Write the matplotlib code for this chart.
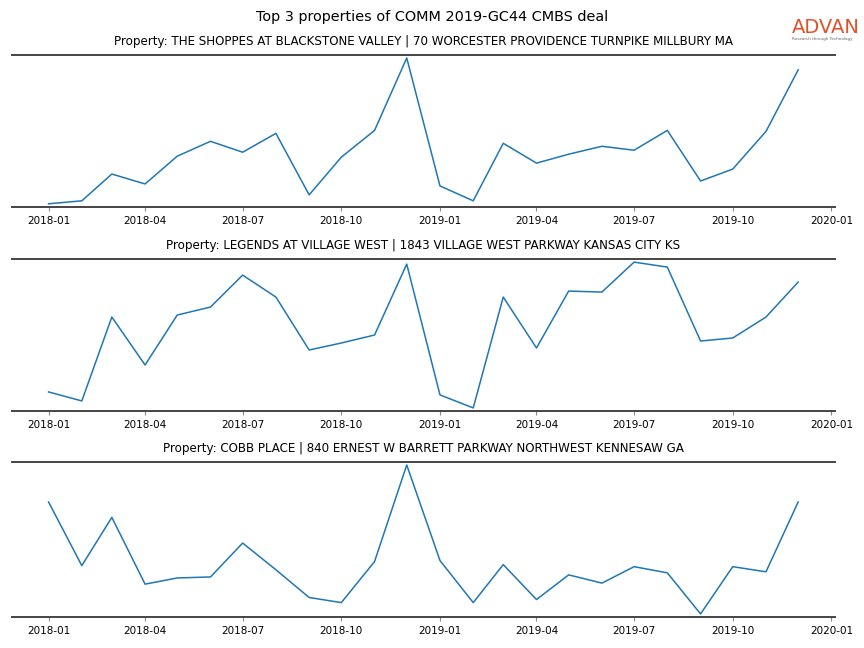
import matplotlib
matplotlib.use('Agg')

import matplotlib.pyplot as plt
import matplotlib.dates as mdates
import pandas as pd

months = pd.date_range('2018-01-01', '2019-12-01', freq='MS')

titles = [
    'Property: THE SHOPPES AT BLACKSTONE VALLEY | 70 WORCESTER PROVIDENCE TURNPIKE MILLBURY MA',
    'Property: LEGENDS AT VILLAGE WEST | 1843 VILLAGE WEST PARKWAY KANSAS CITY KS',
    'Property: COBB PLACE | 840 ERNEST W BARRETT PARKWAY NORTHWEST KENNESAW GA',
]

# monthly foot traffic
blackstone = [20, 50, 320, 220, 500, 650, 540, 730, 110, 490, 760, 1490,
              200, 50, 630, 430, 520, 600, 560, 760, 250, 370, 750, 1370]
legends = [180, 90, 930, 450, 950, 1030, 1350, 1130, 600, 670, 750, 1460,
           150, 20, 1130, 620, 1190, 1180, 1480, 1430, 690, 720, 930, 1280]
cobb = [1140, 520, 990, 340, 400, 410, 740, 480, 210, 160, 560, 1500,
        570, 160, 530, 190, 430, 350, 510, 450, 50, 510, 460, 1140]

series = [blackstone, legends, cobb]

fig = plt.figure(figsize=(8.64, 6.48), dpi=100)
fig.suptitle('Top 3 properties of COMM 2019-GC44 CMBS deal', fontsize=10.4, y=0.985)

boxes = [(0.915, 0.681), (0.600, 0.366), (0.287, 0.048)]
for (top, bottom), title, vals in zip(boxes, titles, series):
    ax = fig.add_axes([0.014, bottom, 0.952, top - bottom])
    ax.plot(months, vals, color='#1f77b4', linewidth=1.1)
    ax.set_title(title, fontsize=8.6, pad=7)
    ax.margins(y=0.02)
    ax.set_xlim(pd.Timestamp('2017-11-28'), pd.Timestamp('2020-01-04'))
    ax.xaxis.set_major_locator(mdates.MonthLocator(bymonth=[1, 4, 7, 10]))
    ax.xaxis.set_major_formatter(mdates.DateFormatter('%Y-%m'))
    ax.tick_params(axis='x', labelsize=7.5, length=3, color='#888888')
    ax.set_yticks([])
    for s in ['left', 'right']:
        ax.spines[s].set_visible(False)
    for s in ['top', 'bottom']:
        ax.spines[s].set_color('#444444')
        ax.spines[s].set_linewidth(1.4)

fig.text(0.916, 0.958, 'ADVAN', color='#e2522a', fontsize=14, ha='left', va='center')
fig.text(0.917, 0.940, 'Research through Technology', color='#666666', fontsize=3, ha='left', va='center')

fig.savefig('out.png', dpi=100)
